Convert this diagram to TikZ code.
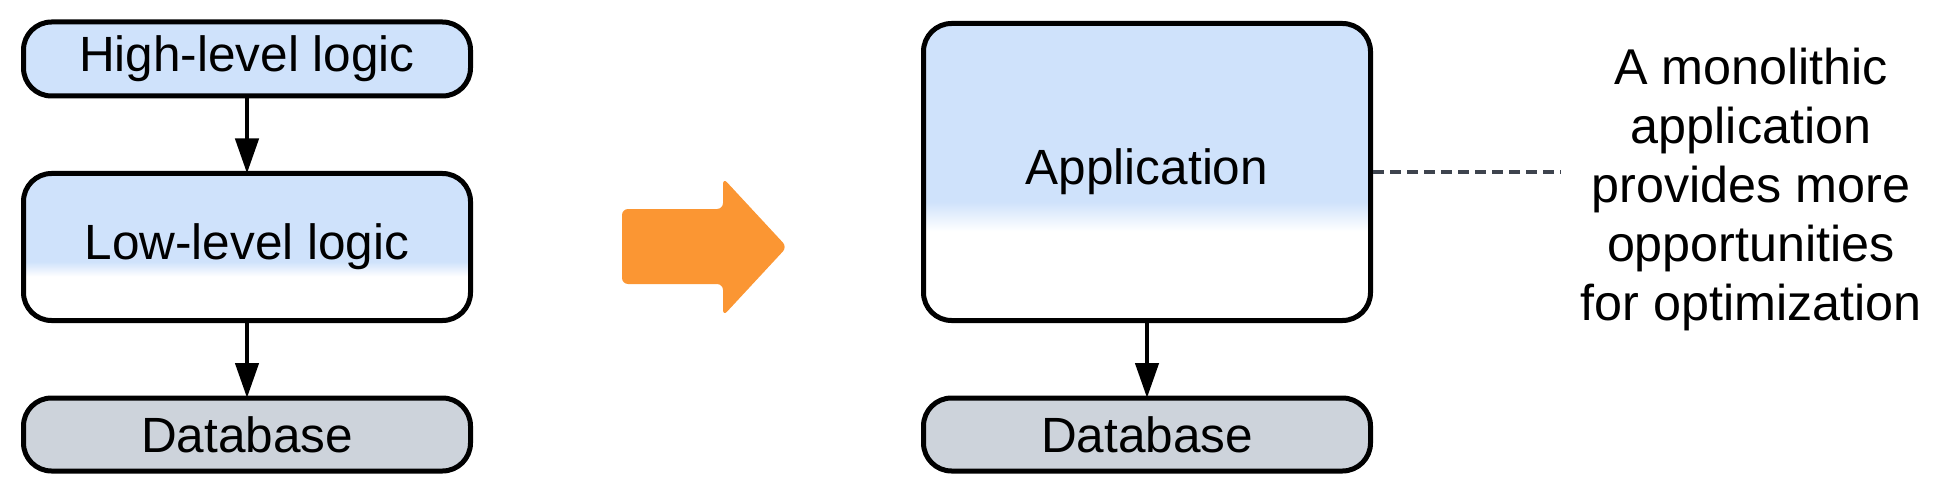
\documentclass[tikz,border=0pt]{standalone}
\usepackage{fontspec}
\setmainfont{Liberation Sans}
\usetikzlibrary{arrows.meta}
\definecolor{boxblue}{RGB}{207,226,251}
\definecolor{dbgray}{RGB}{205,211,219}
\definecolor{bigorange}{RGB}{251,150,51}
\definecolor{dashgray}{RGB}{62,68,78}
\pgfdeclareverticalshading{boxfade}{100bp}{color(0bp)=(white); color(40bp)=(white); color(45bp)=(boxblue); color(100bp)=(boxblue)}
\begin{document}
\begin{tikzpicture}[x=1pt, y=-1pt,
  box/.style={draw, line width=5pt, rounded corners=28pt, minimum width=447pt, inner sep=0pt, font=\fontsize{49.5}{59}\selectfont},
  conn/.style={line width=4.5pt, shorten >=-2.5pt, -{Triangle[length=35pt,width=23pt]}}]
\useasboundingbox (0,0) rectangle (1937,497);
\node[box, fill=boxblue, minimum height=74pt] (lb0) at (247,59){High-level logic};
\node[box, shade, shading=boxfade, minimum height=147pt] (lb1) at (247,247){Low-level logic};
\node[box, fill=dbgray, minimum height=73pt] (lb2) at (247,434.5){Database};
\draw[conn](lb0) -- (lb1);
\draw[conn](lb1) -- (lb2);
\fill[bigorange, rounded corners=6pt] (622,209) -- (723,209) -- (723,178) -- (787,247) -- (723,316) -- (723,284) -- (622,284) -- cycle;
\node[box, shade, shading=boxfade, minimum height=297pt] (rb0) at (1147,172){Application};
\node[box, fill=dbgray, minimum height=73pt] (rb1) at (1147,434.5){Database};
\draw[conn](rb0) -- (rb1);
\node[align=center, inner xsep=20pt, font=\fontsize{50.3}{59}\selectfont] (note) at (1751,189){A monolithic\\application\\provides more\\opportunities\\for optimization};
\draw[dashgray, line width=4pt, dash pattern=on 11pt off 6pt](rb0.east) -- (rb0.east -| note.west);
\end{tikzpicture}
\end{document}
